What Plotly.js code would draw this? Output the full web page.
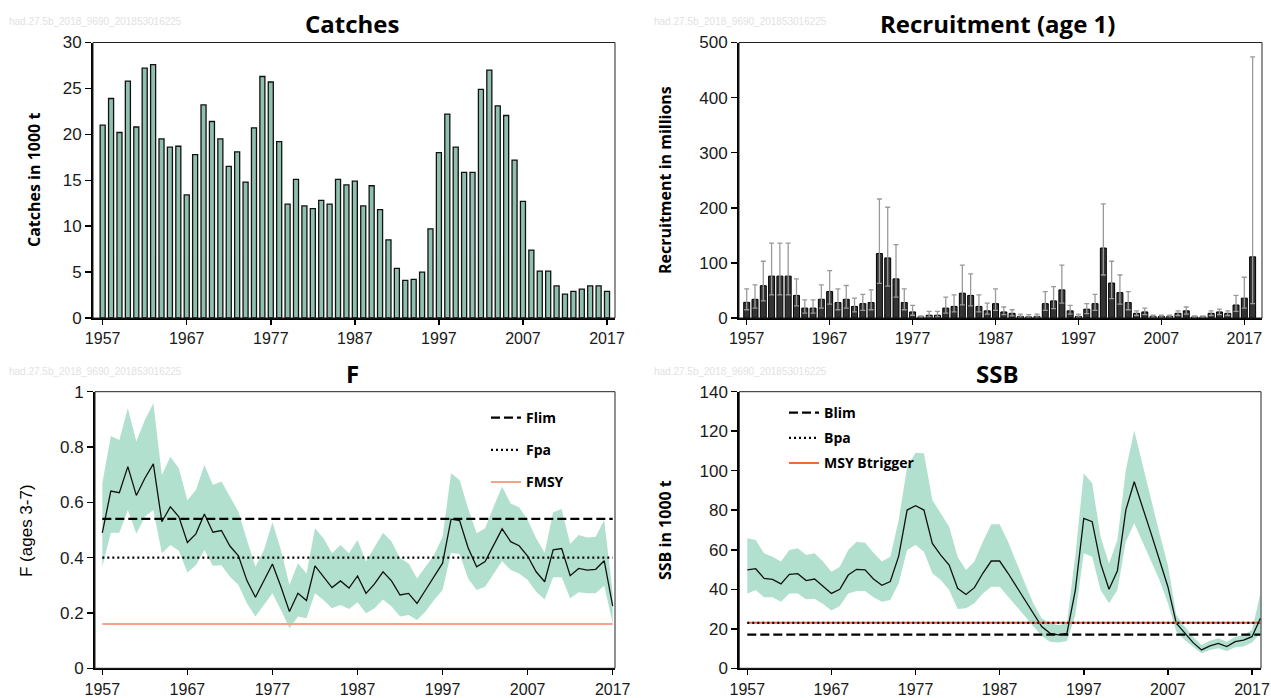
<!DOCTYPE html>
<html>
<head>
<meta charset="utf-8">
<script src="https://cdn.plot.ly/plotly-3.0.1.min.js"></script>
<style>html,body{margin:0;padding:0;background:#fff;}#chart{width:1271px;height:698px;}</style>
</head>
<body>
<div id="chart"></div>
<script>
// ---------- DATA ----------
const catchYears = [1957,1958,1959,1960,1961,1962,1963,1964,1965,1966,1967,1968,1969,1970,1971,1972,1973,1974,1975,1976,1977,1978,1979,1980,1981,1982,1983,1984,1985,1986,1987,1988,1989,1990,1991,1992,1993,1994,1995,1996,1997,1998,1999,2000,2001,2002,2003,2004,2005,2006,2007,2008,2009,2010,2011,2012,2013,2014,2015,2016,2017];
const catches = [21.0,23.9,20.2,25.8,20.8,27.2,27.6,19.5,18.6,18.7,13.4,17.8,23.2,21.4,19.5,16.5,18.1,14.8,20.7,26.3,25.7,19.2,12.4,15.1,12.2,11.9,12.8,12.4,15.1,14.5,14.9,12.2,14.4,11.8,8.5,5.4,4.1,4.2,5.0,9.7,18.0,22.2,18.6,15.85,15.85,24.9,27.0,23.1,22.05,17.2,12.7,7.4,5.1,5.1,3.5,2.6,2.9,3.15,3.5,3.5,2.9];

const recYears = [1957,1958,1959,1960,1961,1962,1963,1964,1965,1966,1967,1968,1969,1970,1971,1972,1973,1974,1975,1976,1977,1978,1979,1980,1981,1982,1983,1984,1985,1986,1987,1988,1989,1990,1991,1992,1993,1994,1995,1996,1997,1998,1999,2000,2001,2002,2003,2004,2005,2006,2007,2008,2009,2010,2011,2012,2013,2014,2015,2016,2017,2018];
const recruitment = [28.4,33.9,58.6,76,76,76,41,18,18,34,48,28,34,21,26,28,117,109,71,28,11,2,5,5,18,21,45,41,21,13,26,11,8.5,3,2,3,26,31,51,13,3,16,26,127,63.5,46,28,8.5,11,3,3,3,8.5,13,2,2,8.5,11,8.5,23.6,36,111];
const recHigh = [53,60,103,136,136,136,71,33,33,60,86,53,59,36,43,51,216,201,133,53,23,4,12,12,38,42,96,80,42,27,53,20,15,7,6,7,48,57,96,23,7,26,43,207,103,78,48,13,18,5,5,5,13,20,4,4,13,16,13,41,74,474];
const recLow = [15,18,31,42,42,42,22,9,9,18,25,15,18,11,14,15,63,58,38,15,5,1,2,2,9,11,24,22,11,7,14,6,4,1.5,1,1.5,14,17,27,7,1.5,8,14,78,35,25,15,4.5,6,1.5,1.5,1.5,4.5,7,1,1,4.5,6,4.5,12,18,26];

const fYears = catchYears;
const fValues = [0.49,0.641,0.635,0.729,0.625,0.687,0.739,0.53,0.584,0.548,0.455,0.486,0.558,0.492,0.498,0.442,0.407,0.317,0.257,0.319,0.377,0.295,0.205,0.271,0.245,0.37,0.331,0.292,0.316,0.29,0.334,0.271,0.305,0.349,0.316,0.265,0.271,0.235,0.283,0.331,0.38,0.539,0.534,0.436,0.367,0.386,0.446,0.504,0.458,0.443,0.406,0.349,0.313,0.428,0.433,0.335,0.361,0.355,0.358,0.389,0.225];
const fHigh = [0.669,0.84,0.825,0.94,0.82,0.898,0.958,0.699,0.765,0.723,0.608,0.645,0.735,0.663,0.675,0.62,0.566,0.464,0.367,0.428,0.528,0.428,0.301,0.38,0.343,0.506,0.47,0.416,0.446,0.416,0.464,0.386,0.44,0.49,0.458,0.398,0.38,0.325,0.367,0.41,0.476,0.705,0.681,0.578,0.488,0.506,0.584,0.657,0.596,0.582,0.536,0.47,0.418,0.564,0.576,0.449,0.482,0.473,0.476,0.536,0.27];
const fLow = [0.367,0.49,0.49,0.572,0.486,0.548,0.572,0.416,0.446,0.425,0.346,0.373,0.428,0.371,0.373,0.331,0.301,0.235,0.187,0.229,0.271,0.211,0.145,0.187,0.181,0.271,0.247,0.217,0.229,0.214,0.239,0.199,0.217,0.249,0.223,0.187,0.193,0.175,0.205,0.247,0.283,0.418,0.413,0.325,0.283,0.295,0.343,0.388,0.355,0.343,0.319,0.277,0.249,0.329,0.329,0.253,0.275,0.271,0.271,0.298,0.163];
const Flim = 0.54, Fpa = 0.40, FMSY = 0.16;

const ssbYears = recYears;
const ssb = [49.8,50.4,45.5,45,42.7,47.6,47.9,44.4,45.2,41.7,37.9,40,47.2,50.1,49.8,45.2,42,43.9,56.8,80.1,82.3,80.1,63.2,57.3,52.3,40.5,37.4,40.8,48.1,54.3,54.3,48.1,41.3,34.6,27.8,21.1,17.7,16.9,17.7,39.6,75.9,74.2,53.1,40,49.4,80.1,94.4,81.8,68.3,54.8,41.3,22.8,17.7,13,9.3,11.3,12.6,11,13.5,14.3,16,25.3];
const ssbHigh = [65.8,64.9,58.2,56.5,54,59.9,60.7,57.3,58.2,54,48.9,51.4,59.9,64.1,63.6,58.5,54,56.5,75,102,109.1,108.8,85.2,78.4,71.7,56.5,49.8,54,64.1,72.9,72.9,64.1,53.1,43,32.9,25.3,22.8,21.9,22.8,57.3,98.7,93.6,66.6,53.1,64.9,100.4,120.3,102.9,85.2,68.3,52.3,27,21.1,16,11.8,14,15.2,13.5,16,16.9,19.4,37.9];
const ssbLow = [37.9,39.6,35.9,35.9,33.7,37.9,37.9,34.9,35.2,32.6,29.2,31.5,37.9,39.1,39.1,35.9,33.7,34.6,43,59.9,62.4,59,48.1,44.7,39.6,30,30.4,32.9,37.9,41.3,41.3,36.3,30.9,26.1,21.1,16.4,13.5,13,13.8,27,58.2,56.5,39.6,32.9,39.6,64.1,73.4,64.1,54.8,44.7,32.9,18.6,14.3,11,7.6,9.3,10.1,8.8,10.6,11,13,17.7];
const Blim = 17, Bpa = 23, MSYBtrigger = 23;

const yearTicks = [1957,1967,1977,1987,1997,2007,2017];
const watermark = 'had.27.5b_2018_9690_201853016225';

// ---------- STYLE ----------
const BAR_GREEN = '#8fbfad';
const BAND = '#b2e0cf';
const SALMON = '#f5a387';
const titleFont = {family: '"Open Sans", Lato, sans-serif', size: 24, color: '#000', weight: 'bold'};
const axTitleFont = {family: '"Open Sans", Lato, sans-serif', size: 16, color: '#000', weight: 'bold'};
const legFont = {family: '"Open Sans", Lato, sans-serif', size: 14, color: '#000', weight: 'bold'};

const fEnds = [fYears[0], fYears[fYears.length - 1]];
const sEnds = [ssbYears[0], ssbYears[ssbYears.length - 1]];

const traces = [
  {type: 'bar', x: catchYears, y: catches, xaxis: 'x', yaxis: 'y', width: 0.6,
   marker: {color: BAR_GREEN, line: {color: '#111', width: 1.3}}, showlegend: false, hoverinfo: 'x+y'},
  {type: 'bar', x: recYears, y: recruitment, xaxis: 'x2', yaxis: 'y2', width: 0.72,
   marker: {color: '#333', line: {color: '#000', width: 1}}, showlegend: false,
   error_y: {type: 'data', symmetric: false,
     array: recHigh.map((h, i) => h - recruitment[i]),
     arrayminus: recLow.map((l, i) => recruitment[i] - l),
     color: '#9a9a9a', thickness: 1.3, width: 2.5}},
  // F band
  {type: 'scatter', mode: 'lines', x: fYears, y: fLow, xaxis: 'x3', yaxis: 'y3', line: {width: 0, color: BAND}, showlegend: false, hoverinfo: 'skip'},
  {type: 'scatter', mode: 'lines', x: fYears, y: fHigh, xaxis: 'x3', yaxis: 'y3', fill: 'tonexty', fillcolor: BAND, line: {width: 0, color: BAND}, showlegend: false, hoverinfo: 'skip'},
  {type: 'scatter', mode: 'lines', x: fYears, y: fValues, xaxis: 'x3', yaxis: 'y3', line: {color: '#111', width: 1.3}, showlegend: false},
  {type: 'scatter', mode: 'lines', name: 'Flim', x: fEnds, y: [Flim, Flim], xaxis: 'x3', yaxis: 'y3', line: {color: '#000', width: 2.2, dash: '9px,4px'}, legend: 'legend', legendgroup: 'a', legendrank: 1},
  {type: 'scatter', mode: 'lines', name: 'Fpa', x: fEnds, y: [Fpa, Fpa], xaxis: 'x3', yaxis: 'y3', line: {color: '#000', width: 2.2, dash: '2px,3px'}, legend: 'legend', legendgroup: 'b', legendrank: 2},
  {type: 'scatter', mode: 'lines', name: 'FMSY', x: fEnds, y: [FMSY, FMSY], xaxis: 'x3', yaxis: 'y3', line: {color: SALMON, width: 2}, legend: 'legend', legendgroup: 'c', legendrank: 3},
  // SSB band
  {type: 'scatter', mode: 'lines', x: ssbYears, y: ssbLow, xaxis: 'x4', yaxis: 'y4', line: {width: 0, color: BAND}, showlegend: false, hoverinfo: 'skip'},
  {type: 'scatter', mode: 'lines', x: ssbYears, y: ssbHigh, xaxis: 'x4', yaxis: 'y4', fill: 'tonexty', fillcolor: BAND, line: {width: 0, color: BAND}, showlegend: false, hoverinfo: 'skip'},
  {type: 'scatter', mode: 'lines', x: ssbYears, y: ssb, xaxis: 'x4', yaxis: 'y4', line: {color: '#111', width: 1.3}, showlegend: false},
  {type: 'scatter', mode: 'lines', name: 'Blim', x: sEnds, y: [Blim, Blim], xaxis: 'x4', yaxis: 'y4', line: {color: '#000', width: 2.2, dash: '9px,4px'}, legend: 'legend2', legendgroup: 'd', legendrank: 1},
  {type: 'scatter', mode: 'lines', name: 'MSY Btrigger', x: sEnds, y: [MSYBtrigger, MSYBtrigger], xaxis: 'x4', yaxis: 'y4', line: {color: '#ee6a3c', width: 2}, legend: 'legend2', legendgroup: 'f', legendrank: 3},
  {type: 'scatter', mode: 'lines', name: 'Bpa', x: sEnds, y: [Bpa, Bpa], xaxis: 'x4', yaxis: 'y4', line: {color: '#000', width: 2.2, dash: '2px,3px'}, legend: 'legend2', legendgroup: 'e', legendrank: 2}
];

const tickFont = {family: '"Liberation Sans", Arial, sans-serif', size: 16, color: '#1a1a1a'};
function xax(domain, anchor, range) {
  return {domain: domain, anchor: anchor, range: range, tickvals: yearTicks, ticks: 'outside', ticklen: 5, tickwidth: 1.5,
    tickcolor: '#000', showline: true, linewidth: 2, linecolor: '#000', showgrid: false, zeroline: false, tickfont: tickFont, fixedrange: true};
}
function yax(domain, anchor, range, dtick) {
  return {domain: domain, anchor: anchor, range: range, dtick: dtick, tick0: 0, ticks: 'outside', ticklen: 6, tickwidth: 1.5,
    tickcolor: '#000', showline: true, linewidth: 2, linecolor: '#000', showgrid: false, zeroline: false,
    tickfont: Object.assign({}, tickFont, {size: 17}), fixedrange: true};
}
const W = 1271, H = 698;
const px = v => v / W, py = v => 1 - v / H;

const ann = [];
function addText(text, x, y, font, extra) {
  ann.push(Object.assign({text: text, xref: 'paper', yref: 'paper', x: px(x), y: py(y), showarrow: false, font: font, xanchor: 'center', yanchor: 'middle'}, extra || {}));
}
addText('Catches', 352, 23, titleFont);
addText('Recruitment (age 1)', 997, 23, titleFont);
addText('F', 352, 373, titleFont);
addText('SSB', 997, 373, titleFont);
addText('Catches in 1000 t', 34, 180, axTitleFont, {textangle: -90});
addText('Recruitment in millions', 665, 180, axTitleFont, {textangle: -90});
addText('F (ages 3-7)', 26, 531, {family: '"Liberation Sans", Arial, sans-serif', size: 17, color: '#000'}, {textangle: -90});
addText('SSB in 1000 t', 665, 530, axTitleFont, {textangle: -90});
const wmFont = {family: '"Liberation Sans", Arial, sans-serif', size: 10, color: '#e2e2e2'};
addText(watermark, 7, 21, wmFont, {xanchor: 'left'});
addText(watermark, 652, 21, wmFont, {xanchor: 'left'});
addText(watermark, 7, 371, wmFont, {xanchor: 'left'});
addText(watermark, 652, 371, wmFont, {xanchor: 'left'});

const shapes = ['', '2', '3', '4'].map(s => ({type: 'rect', xref: 'x' + s + ' domain', yref: 'y' + s + ' domain', x0: 0, x1: 1, y0: 0, y1: 1, line: {color: '#222', width: 1}}));

const layout = {
  width: W, height: H, margin: {l: 0, r: 0, t: 0, b: 0}, paper_bgcolor: '#fff', plot_bgcolor: 'rgba(0,0,0,0)',
  showlegend: true, bargap: 0,
  xaxis: xax([px(93), px(615)], 'y', [1955.85, 2017.95]),
  yaxis: yax([py(318), py(42.5)], 'x', [0, 30], 5),
  xaxis2: xax([px(739), px(1262)], 'y2', [1956.07, 2019.13]),
  yaxis2: yax([py(318), py(42.5)], 'x2', [0, 500], 100),
  xaxis3: xax([px(95), px(615)], 'y3', [1956.14, 2017.27]),
  yaxis3: yax([py(668.3), py(391.7)], 'x3', [0, 1], 0.2),
  xaxis4: xax([px(739.3), px(1261)], 'y4', [1956.05, 2018.07]),
  yaxis4: yax([py(668.3), py(391.7)], 'x4', [0, 140], 20),
  legend: {x: px(486), y: py(402), xanchor: 'left', yanchor: 'top', bgcolor: 'rgba(0,0,0,0)', font: legFont, traceorder: 'grouped', tracegroupgap: 11, itemwidth: 30},
  legend2: {x: px(784), y: py(397), xanchor: 'left', yanchor: 'top', bgcolor: 'rgba(0,0,0,0)', font: legFont, traceorder: 'grouped', tracegroupgap: 4, itemwidth: 30},
  annotations: ann, shapes: shapes
};
Plotly.newPlot('chart', traces, layout, {displayModeBar: false, staticPlot: true});
</script>
</body>
</html>
